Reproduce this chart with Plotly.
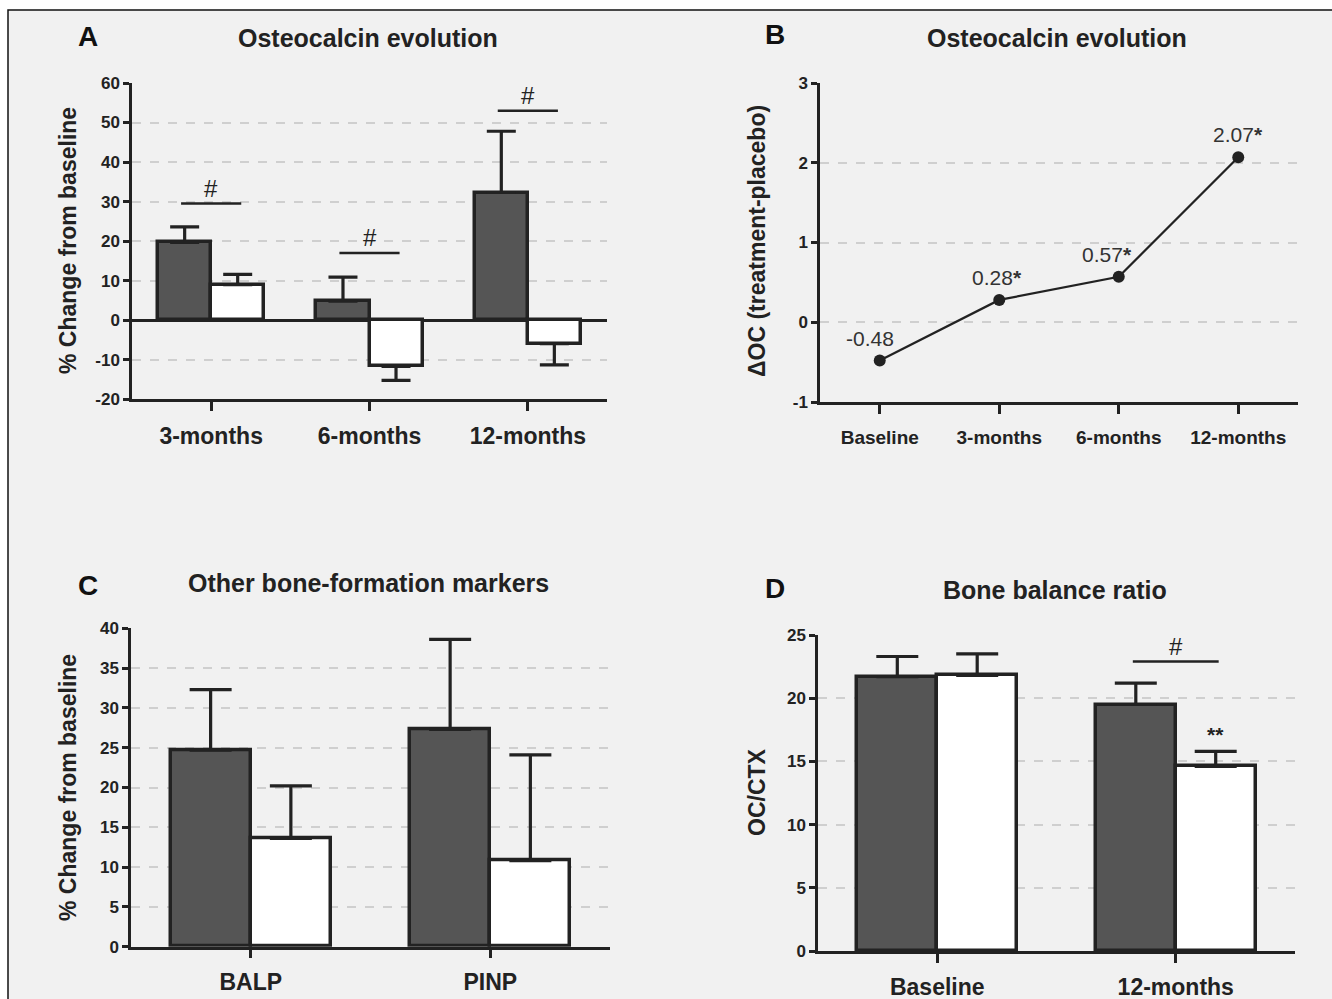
import plotly.graph_objects as go

W, H = 1332, 999

# ---------------- data ----------------
A_categories = ["3-months", "6-months", "12-months"]
A_treatment = [19.7, 4.8, 32.3]
A_treatment_err = [3.9, 6.1, 15.5]
A_placebo = [9.0, -11.7, -5.9]
A_placebo_err = [2.6, 3.5, 5.4]
A_sig_y = [29.5, 17.0, 53.0]
A_yticks = [-20, -10, 0, 10, 20, 30, 40, 50, 60]

B_categories = ["Baseline", "3-months", "6-months", "12-months"]
B_values = [-0.48, 0.28, 0.57, 2.07]
B_labels = ["-0.48", "0.28<b>*</b>", "0.57<b>*</b>", "2.07<b>*</b>"]
B_label_shift = [-10, -2, -12, 0]
B_yticks = [-1, 0, 1, 2, 3]

C_categories = ["BALP", "PINP"]
C_treatment = [24.7, 27.3]
C_treatment_err = [7.6, 11.3]
C_placebo = [13.6, 10.8]
C_placebo_err = [6.6, 13.3]
C_yticks = [0, 5, 10, 15, 20, 25, 30, 35, 40]

D_categories = ["Baseline", "12-months"]
D_treatment = [21.7, 19.5]
D_treatment_err = [1.6, 1.7]
D_placebo = [21.8, 14.6]
D_placebo_err = [1.7, 1.2]
D_sig_y = [22.9]
D_sig_cat = [1]
D_yticks = [0, 5, 10, 15, 20, 25]

# ---------------- style ----------------
INK = "#222222"
DARK = "#555555"
LIGHT = "#ffffff"
BG = "#f1f1f1"
GRID = "#cfcfcf"
FONT = "Liberation Sans"


def xdom(a, b):
    return [a / W, b / W]


def ydom(top, bottom):
    return [1 - bottom / H, 1 - top / H]


def px(x):
    return x / W


def py(y):
    return 1 - y / H


fig = go.Figure()

BW = 0.335  # bar width in category units


def add_bars(xa, ya, cats, treat, terr, plac, perr, capw):
    xs = list(range(len(cats)))
    for vals, errs, color, off, name in [
        (treat, terr, DARK, -BW, "Treatment"),
        (plac, perr, LIGHT, 0.0, "Placebo"),
    ]:
        plus = [e if v >= 0 else 0 for v, e in zip(vals, errs)]
        minus = [0 if v >= 0 else e for v, e in zip(vals, errs)]
        fig.add_trace(go.Bar(
            x=xs, y=vals, name=name, showlegend=False,
            width=BW, offset=off,
            marker=dict(color=color, line=dict(color=INK, width=3.5)),
            error_y=dict(type="data", symmetric=False, array=plus, arrayminus=minus,
                         color=INK, thickness=3.2, width=capw),
            xaxis=xa, yaxis=ya,
        ))


def add_sig(xa, ya, xs, ys, half=0.19):
    for x, y in zip(xs, ys):
        fig.add_trace(go.Scatter(
            x=[x - half, x + half], y=[y, y], mode="lines",
            line=dict(color=INK, width=2.5), showlegend=False, hoverinfo="skip",
            xaxis=xa, yaxis=ya,
        ))
        fig.add_annotation(x=x, y=y, xref=xa, yref=ya, text="#", showarrow=False,
                           yanchor="bottom", yshift=0,
                           font=dict(family=FONT, size=24, color=INK))


# Panel A
add_bars("x", "y", A_categories, A_treatment, A_treatment_err, A_placebo, A_placebo_err, 14.5)
add_sig("x", "y", [0, 1, 2], A_sig_y)

# Panel B
fig.add_trace(go.Scatter(
    x=list(range(len(B_categories))), y=B_values, mode="lines+markers",
    line=dict(color=INK, width=2.2), marker=dict(color=INK, size=12),
    showlegend=False, xaxis="x2", yaxis="y2",
))
for i, (v, lab, sh) in enumerate(zip(B_values, B_labels, B_label_shift)):
    fig.add_annotation(x=i, y=v, xref="x2", yref="y2", text=lab, showarrow=False,
                       yanchor="bottom", yshift=9, xshift=sh,
                       font=dict(family=FONT, size=21, color="#333333"))

# Panel C
add_bars("x3", "y3", C_categories, C_treatment, C_treatment_err, C_placebo, C_placebo_err, 21)

# Panel D
add_bars("x4", "y4", D_categories, D_treatment, D_treatment_err, D_placebo, D_placebo_err, 21)
add_sig("x4", "y4", D_sig_cat, D_sig_y, half=0.18)
fig.add_annotation(x=1 + BW / 2, y=D_placebo[1] + D_placebo_err[1], xref="x4", yref="y4",
                   text="**", showarrow=False, yanchor="bottom", yshift=3,
                   font=dict(family=FONT, size=21, color=INK, weight="bold"))

# ---------------- axes ----------------
tickfont_y = dict(family=FONT, size=17, color=INK, weight="bold")
tickfont_x = dict(family=FONT, size=23, color=INK, weight="bold")


def yaxis(dom, rng, ticks, anchor, zeroline=False):
    return dict(domain=dom, range=rng, tickvals=ticks, ticktext=[str(t) for t in ticks],
                showline=True, linecolor=INK,
                linewidth=2.5, ticks="outside", ticklen=6, tickwidth=2.5, tickcolor=INK,
                showgrid=True, gridcolor=GRID, griddash="dash", gridwidth=1.5,
                zeroline=zeroline, zerolinecolor=INK, zerolinewidth=2.5,
                tickfont=tickfont_y, fixedrange=True, automargin=False, anchor=anchor)


def xaxis(dom, cats, anchor, font=tickfont_x, standoff=12):
    return dict(domain=dom, range=[-0.5, len(cats) - 0.5], tickvals=list(range(len(cats))),
                ticktext=cats, showline=True, linecolor=INK, linewidth=2.5,
                ticks="outside", ticklen=9, tickwidth=2.5, tickcolor=INK,
                showgrid=False, zeroline=False, anchor=anchor, tickfont=font,
                ticklabelstandoff=standoff, fixedrange=True, automargin=False)


fig.update_layout(
    template="none",
    width=W, height=H, margin=dict(l=0, r=0, t=0, b=0, autoexpand=False),
    paper_bgcolor="#ffffff", plot_bgcolor="rgba(0,0,0,0)",
    bargap=0, showlegend=False,
    xaxis=xaxis(xdom(132, 607), A_categories, "y", standoff=5),
    yaxis=yaxis(ydom(83, 399.3), [-20, 60], A_yticks, "x", zeroline=True),
    xaxis2=xaxis(xdom(820, 1298), B_categories, "y2",
                 font=dict(family=FONT, size=19, color=INK, weight="bold"), standoff=7),
    yaxis2=yaxis(ydom(83, 402), [-1, 3], B_yticks, "x2"),
    xaxis3=xaxis(xdom(131, 610), C_categories, "y3", standoff=4),
    yaxis3=yaxis(ydom(628.3, 946.7), [0, 40], C_yticks, "x3"),
    xaxis4=xaxis(xdom(818, 1295), D_categories, "y4", standoff=5),
    yaxis4=yaxis(ydom(635, 951), [0, 25], D_yticks, "x4"),
)

# background frame
fig.add_shape(type="rect", xref="paper", yref="paper",
              x0=px(8), x1=1.02, y0=-0.02, y1=py(10),
              fillcolor=BG, line=dict(color="#111111", width=1.5), layer="below")

# titles, letters, y-axis titles
titles = [
    ("Osteocalcin evolution", 368, 38), ("Osteocalcin evolution", 1057, 38),
    ("Other bone-formation markers", 368, 583), ("Bone balance ratio", 1055, 590),
]
for t, x, y in titles:
    fig.add_annotation(x=px(x), y=py(y), xref="paper", yref="paper", text=t, showarrow=False,
                       xanchor="center", yanchor="middle",
                       font=dict(family=FONT, size=25, color=INK, weight="bold"))
letters = [("A", 88, 37), ("B", 775, 35), ("C", 88, 585), ("D", 775, 588)]
for t, x, y in letters:
    fig.add_annotation(x=px(x), y=py(y), xref="paper", yref="paper", text=t, showarrow=False,
                       xanchor="center", yanchor="middle",
                       font=dict(family=FONT, size=28, color="#111111", weight="bold"))
ytitles = [
    ("% Change from baseline", 68, 241), ("ΔOC (treatment-placebo)", 757, 241),
    ("% Change from baseline", 68, 788), ("OC/CTX", 757, 792),
]
for t, x, y in ytitles:
    fig.add_annotation(x=px(x), y=py(y), xref="paper", yref="paper", text=t, showarrow=False,
                       textangle=-90, xanchor="center", yanchor="middle",
                       font=dict(family=FONT, size=23, color=INK, weight="bold"))

fig.write_html("out.html", config={"displayModeBar": False},
               post_script="document.body.style.margin='0';")
